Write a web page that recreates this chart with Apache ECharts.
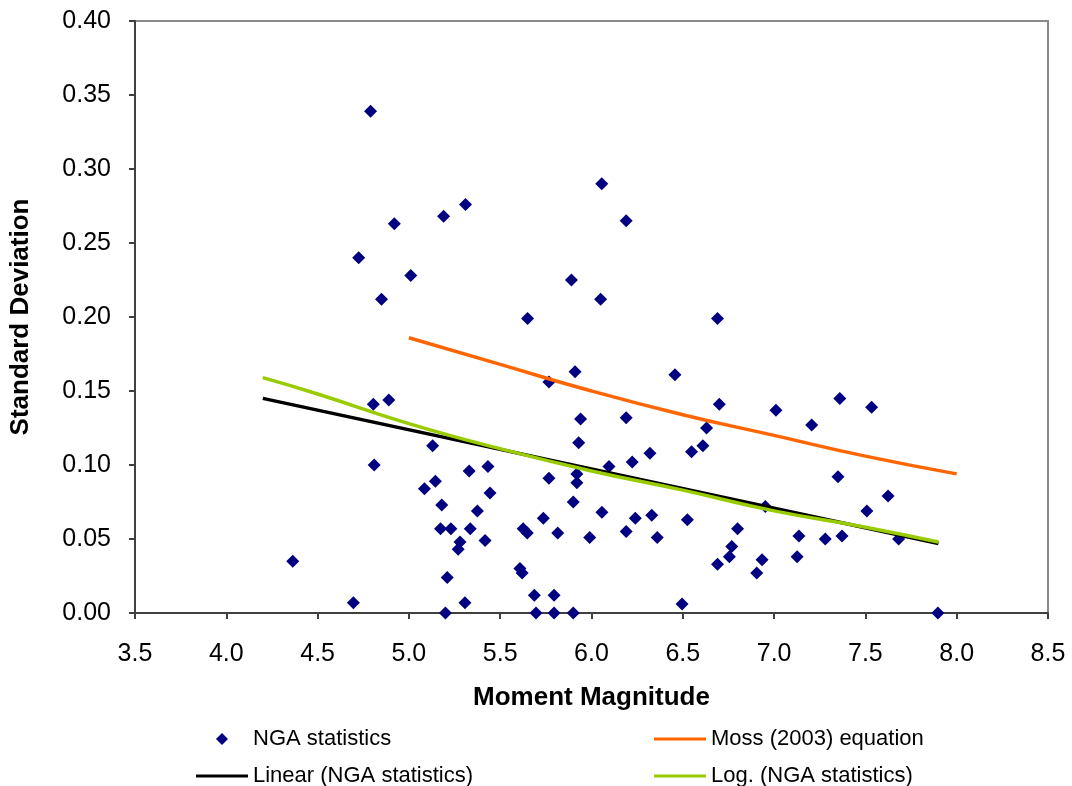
<!DOCTYPE html>
<html>
<head>
<meta charset="utf-8">
<script src="https://cdn.jsdelivr.net/npm/echarts@6/dist/echarts.min.js"></script>
<style>
  html, body { margin: 0; padding: 0; background: #fff; }
  #chart { width: 1072px; height: 786px; }
</style>
</head>
<body>
<div id="chart"></div>
<script>
// NGA statistics: moment magnitude vs. standard deviation
const ngaMag = [4.364, 4.696, 4.725, 4.79, 4.805, 4.81, 4.85, 4.89, 4.92, 5.01,
  5.085, 5.13, 5.145, 5.173, 5.18, 5.19, 5.20, 5.21, 5.23, 5.27,
  5.28, 5.307, 5.31, 5.33, 5.336, 5.375, 5.417, 5.433, 5.444, 5.608,
  5.62, 5.626, 5.648, 5.65, 5.687, 5.696, 5.736, 5.767, 5.767, 5.795,
  5.795, 5.815, 5.89, 5.90, 5.90, 5.91, 5.92, 5.92, 5.93, 5.94,
  5.99, 6.05, 6.056, 6.057, 6.096, 6.19, 6.19, 6.19, 6.223, 6.24,
  6.32, 6.33, 6.36, 6.457, 6.496, 6.525, 6.548, 6.61, 6.63, 6.69,
  6.69, 6.70, 6.755, 6.768, 6.80, 6.905, 6.934, 6.952, 7.01, 7.126,
  7.136, 7.206, 7.28, 7.35, 7.36, 7.372, 7.508, 7.534, 7.624, 7.682,
  7.897];
const ngaSd = [0.035, 0.007, 0.240, 0.339, 0.141, 0.100, 0.212, 0.144, 0.263, 0.228,
  0.084, 0.113, 0.089, 0.057, 0.073, 0.268, 0.000, 0.024, 0.057, 0.043,
  0.048, 0.007, 0.276, 0.096, 0.057, 0.069, 0.049, 0.099, 0.081, 0.030,
  0.027, 0.057, 0.054, 0.199, 0.012, 0.000, 0.064, 0.156, 0.091, 0.012,
  0.000, 0.054, 0.225, 0.075, 0.000, 0.163, 0.094, 0.088, 0.115, 0.131,
  0.051, 0.212, 0.290, 0.068, 0.099, 0.265, 0.132, 0.055, 0.102, 0.064,
  0.108, 0.066, 0.051, 0.161, 0.006, 0.063, 0.109, 0.113, 0.125, 0.199,
  0.033, 0.141, 0.038, 0.045, 0.057, 0.027, 0.036, 0.072, 0.137, 0.038,
  0.052, 0.127, 0.050, 0.092, 0.145, 0.052, 0.069, 0.139, 0.079, 0.050,
  0.000];

// Moss (2003) equation
const mossMag = [5.0, 5.5, 6.0, 6.5, 7.0, 7.5, 8.0];
const mossSd  = [0.186, 0.168, 0.150, 0.134, 0.120, 0.106, 0.094];

// Linear trend of NGA statistics
const linMag = [4.2, 7.9];
const linSd  = [0.145, 0.047];

// Logarithmic trend of NGA statistics
const logMag = [4.2, 4.5, 5.0, 5.5, 6.0, 6.5, 7.0, 7.5, 7.9];
const logSd  = [0.159, 0.148, 0.128, 0.111, 0.096, 0.083, 0.069, 0.058, 0.048];

const pairs = (xs, ys) => xs.map((x, i) => [x, ys[i]]);

const FONT = '"Liberation Sans", Arial, sans-serif';
const axisDark = '#404040';
// Icons span the full 52x12 key box so text lines up in both columns
const diamondIcon = 'path://M0,0 M52,12 M26,0 L32,6 L26,12 L20,6 Z';
const lineIcon = 'path://M0,0 L52,0 L52,3 L0,3 Z';

// One legend per entry: two columns, two rows
const legendEntry = (name, icon, left, top) => ({
  orient: 'horizontal', left, top, padding: 0,
  itemWidth: 52, itemHeight: 12, symbolKeepAspect: true,
  textStyle: { fontFamily: FONT, fontSize: 22, color: '#000' },
  data: [{ name, icon }]
});

const chart = echarts.init(document.getElementById('chart'));
chart.setOption({
  animation: false,
  backgroundColor: '#fff',
  grid: {
    left: 135, right: 24, top: 21, bottom: 173,
    show: true, borderColor: '#8a8a8a', borderWidth: 2, backgroundColor: '#fff'
  },
  xAxis: {
    type: 'value', min: 3.5, max: 8.5, interval: 0.5,
    name: 'Moment Magnitude', nameLocation: 'middle', nameGap: 72,
    nameTextStyle: { fontFamily: FONT, fontSize: 26, fontWeight: 'bold', color: '#000' },
    axisLine: { show: true, onZero: false, lineStyle: { color: axisDark, width: 2 } },
    axisTick: { show: true, length: 6, lineStyle: { color: axisDark, width: 2 } },
    axisLabel: { fontFamily: FONT, fontSize: 25, color: '#000', margin: 29,
      formatter: v => v.toFixed(1) },
    splitLine: { show: false }
  },
  yAxis: {
    type: 'value', min: 0, max: 0.4, interval: 0.05,
    name: 'Standard Deviation', nameLocation: 'middle', nameGap: 101,
    nameTextStyle: { fontFamily: FONT, fontSize: 26, fontWeight: 'bold', color: '#000' },
    axisLine: { show: true, onZero: false, lineStyle: { color: axisDark, width: 2 } },
    axisTick: { show: true, length: 6, lineStyle: { color: axisDark, width: 2 } },
    axisLabel: { fontFamily: FONT, fontSize: 25, color: '#000', margin: 24,
      formatter: v => v.toFixed(2) },
    splitLine: { show: false }
  },
  legend: [
    legendEntry('NGA statistics', diamondIcon, 196, 728),
    legendEntry('Moss (2003) equation', lineIcon, 654, 728),
    legendEntry('Linear (NGA statistics)', lineIcon, 196, 765),
    legendEntry('Log. (NGA statistics)', lineIcon, 654, 765)
  ],
  series: [
    {
      name: 'NGA statistics', type: 'scatter', symbol: 'diamond', symbolSize: 13,
      itemStyle: { color: '#000080', opacity: 1 },
      data: pairs(ngaMag, ngaSd)
    },
    {
      name: 'Moss (2003) equation', type: 'line', smooth: true, showSymbol: false,
      symbol: 'none', lineStyle: { color: '#FF6600', width: 3.5 },
      itemStyle: { color: '#FF6600' },
      data: pairs(mossMag, mossSd)
    },
    {
      name: 'Linear (NGA statistics)', type: 'line', showSymbol: false,
      symbol: 'none', lineStyle: { color: '#000', width: 3.5 },
      itemStyle: { color: '#000' },
      data: pairs(linMag, linSd)
    },
    {
      name: 'Log. (NGA statistics)', type: 'line', smooth: true, showSymbol: false,
      symbol: 'none', lineStyle: { color: '#99CC00', width: 3.5 },
      itemStyle: { color: '#99CC00' },
      data: pairs(logMag, logSd)
    }
  ]
});
</script>
</body>
</html>
